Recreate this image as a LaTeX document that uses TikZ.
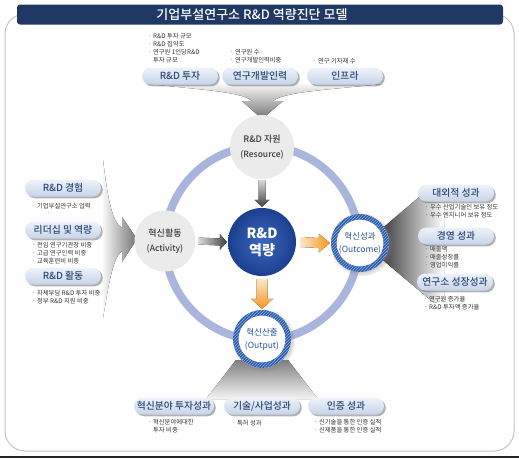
\documentclass[tikz,border=0pt]{standalone}
\usepackage{fontspec}
\setmainfont{Noto Sans CJK KR}
\newfontfamily\krmed{Noto Sans CJK KR Medium}
\usetikzlibrary{shadows,patterns,calc}
\definecolor{navy}{HTML}{1F3864}
\definecolor{ringc}{HTML}{A9B5DC}
\definecolor{cgray}{HTML}{EBEBEB}
\definecolor{hblue}{HTML}{2E5EA8}
\definecolor{hlight}{HTML}{8FB0E0}
\definecolor{cin}{HTML}{3A68BE}
\definecolor{cout}{HTML}{1C3F8F}
\definecolor{ptext}{HTML}{2A4775}
\definecolor{ptop}{HTML}{EEF3FA}
\definecolor{pbot}{HTML}{C6D4EA}
\definecolor{btext}{HTML}{333333}
\definecolor{orng}{HTML}{F7941D}
\definecolor{orngl}{HTML}{FDE6C8}
\definecolor{framec}{HTML}{C4C4C4}
\definecolor{ctext}{HTML}{3A3A3A}
\definecolor{otext}{HTML}{2A5298}
\begin{document}
\begin{tikzpicture}[x=1pt,y=-1pt,
  pill/.style={rectangle, rounded corners=8.5pt, minimum width=76pt, minimum height=17pt,
    inner sep=0pt, top color=ptop, bottom color=pbot, text=ptext,
    font=\krmed\fontsize{9.8}{10}\selectfont,
    drop shadow={shadow xshift=1.8pt, shadow yshift=-1.8pt, opacity=0.5, fill=black!60}},
  bul/.style={anchor=north west, inner sep=0pt, align=left, text=btext,
    font=\fontsize{6.3}{8}\selectfont},
  graycirc/.style={circle, fill=cgray, minimum size=64pt, inner sep=0pt, align=center,
    text=ctext, font=\krmed\fontsize{9}{15}\selectfont},
  bluecirc/.style={circle, fill=white, minimum size=58pt, inner sep=0pt, align=center,
    text=otext, font=\fontsize{8.5}{13}\selectfont,
    circular drop shadow={shadow xshift=1.5pt, shadow yshift=-1.5pt, opacity=0.35}},
  fan/.style={draw=none}
]
\useasboundingbox (0,0) rectangle (519,458);
\fill[white] (0,0) rectangle (519,458);
% frame
\draw[framec, line width=1pt, rounded corners=20pt] (5,14) rectangle (514,451);
\fill[black!85] (0,455.5) rectangle (519,458);
% title
\node[fill=navy, rounded corners=3pt, minimum width=486pt, minimum height=20pt, inner sep=0pt] (titlebar) at (260,14.5) {};
\node[text=white, font=\krmed\fontsize{13}{13}\selectfont, inner sep=0pt] (title) at (252,14.5) {기업부설연구소 R\&D 역량진단 모델};

% fans
\fill[fan, top color=white!97!black, bottom color=black!55]
  (148,84) .. controls (205,90) and (242,92) .. (252,101) -- (242,101) -- (262,119)
  -- (283,101) -- (273,101) .. controls (284,92) and (325,90) .. (382,84) -- cycle;
\fill[fan, left color=white!97!black, right color=black!55]
  (103,160) .. controls (108,200) and (112,222) .. (122,228) -- (122,217) -- (137,239)
  -- (122,262) -- (122,251) .. controls (112,258) and (108,290) .. (103,318) -- cycle;
\fill[fan, left color=black!80, right color=white]
  (378,232) -- (425,192) -- (444,192) -- (444,300) -- (434,303) -- (378,256) -- cycle;
\fill[fan, top color=black!50, bottom color=white!96!black]
  (236,360) -- (288,360) -- (318,399) -- (206,399) -- cycle;

% ring
\coordinate (rc) at (262,243);
\draw[ringc, line width=8pt] (rc) circle (97pt);

% circles
\node[graycirc] (res) at (262,147) {R\&D 자원\\{\fontsize{8.5}{15}\selectfont(Resource)}};
\node[graycirc, minimum size=61pt] (act) at (165,241) {혁신활동\\{\fontsize{8.5}{15}\selectfont(Activity)}};
\node[bluecirc] (oc) at (360,243) {혁신성과\\(Outcome)};
\node[bluecirc] (op) at (262,339) {혁신산출\\(Output)};
\foreach \c in {oc,op}{
  \fill[hblue, even odd rule] (\c) circle (29pt) circle (23.5pt);
  \fill[pattern=north east lines, pattern color=hlight, even odd rule] (\c) circle (29pt) circle (23.5pt);
}
\node[circle, minimum size=68pt, inner sep=0pt, inner color=cin, outer color=cout, text=white,
  font=\fontsize{14}{17}\selectfont\bfseries, align=center] (core) at (262,242) {R\&D\\역량};

% block arrows
\fill[top color=black!15, bottom color=black!75]
  ($(res.south)+(-3.5,1)$) -- ($(core.north)+(-3.5,-8)$) -- ($(core.north)+(-7.5,-8)$)
  -- ($(core.north)+(0,-1)$) -- ($(core.north)+(7.5,-8)$) -- ($(core.north)+(3.5,-8)$)
  -- ($(res.south)+(3.5,1)$) -- cycle;
\fill[left color=black!15, right color=black!75]
  ($(act.east)+(3,-3.5)$) -- ($(core.west)+(-8,-3.5)$) -- ($(core.west)+(-8,-8)$)
  -- ($(core.west)+(-1,0)$) -- ($(core.west)+(-8,8)$) -- ($(core.west)+(-8,3.5)$)
  -- ($(act.east)+(3,3.5)$) -- cycle;
\fill[left color=orngl, right color=orng]
  ($(core.east)+(4,-5)$) -- ($(oc.west)+(-12,-5)$) -- ($(oc.west)+(-12,-9.5)$)
  -- ($(oc.west)+(-1,0)$) -- ($(oc.west)+(-12,9.5)$) -- ($(oc.west)+(-12,5)$)
  -- ($(core.east)+(4,5)$) -- cycle;
\fill[top color=orngl, bottom color=orng]
  ($(core.south)+(-5.5,3)$) -- ($(op.north)+(-5.5,-11)$) -- ($(op.north)+(-11,-11)$)
  -- ($(op.north)+(0,-1)$) -- ($(op.north)+(11,-11)$) -- ($(op.north)+(5.5,-11)$)
  -- ($(core.south)+(5.5,3)$) -- cycle;

% top pills and bullets
\node[pill] (p1) at (180,76) {R\&D 투자};
\node[pill] (p2) at (260,76) {연구개발인력};
\node[pill] (p3) at (345,76) {인프라};
\node[bul] (t1) at (148,33.5) {· R\&D 투자 규모\\· R\&D 집약도\\· 연구원 1인당R\&D\\\hspace{5pt}투자 규모};
\node[bul] (t2) at (230,49.5) {· 연구원 수\\· 연구개발인력비중};
\node[bul] (t3) at (313,58.5) {· 연구 기자재 수};

% left pills and bullets
\node[pill] (l1) at (63,188) {R\&D 경험};
\node[pill] (l2) at (63,230) {리더십 및 역량};
\node[pill] (l3) at (63,276) {R\&D 활동};
\node[bul] (lb1) at (32,203.5) {· 기업부설연구소 업력};
\node[bul] (lb0) at (46.5,212.5) {·};
\node[bul] (lb2) at (32,242.5) {· 전임 연구기관장 비중\\· 고급 연구인력 비중\\· 교육훈련비 비중};
\node[bul] (lb3) at (32,290.5) {· 자체부담 R\&D 투자 비중\\· 정부 R\&D 지원 비중};

% right pills and bullets
\node[pill] (r1) at (456,193) {대외적 성과};
\node[pill] (r2) at (456,236) {경영 성과};
\node[pill] (r3) at (455,282) {연구소 성장성과};
\node[bul] (rb1) at (425,204.5) {· 우수 산업기술인 보유 정도\\· 우수 엔지니어 보유 정도};
\node[bul] (rb2) at (425,246.5) {· 매출액\\· 매출성장률\\· 영업이익률};
\node[bul] (rb3) at (424,296.5) {· 연구원 증가율\\· R\&D 투자액 증가율};

% bottom pills and bullets
\node[pill, minimum width=80pt] (b1) at (174,406) {혁신분야 투자성과};
\node[pill] (b2) at (262,406) {기술/사업성과};
\node[pill] (b3) at (346,406) {인증 성과};
\node[bul] (bb1) at (148,419.5) {· 혁신분야에대한\\\hspace{5pt}투자 비중};
\node[bul] (bb2) at (232,420.5) {· 특허 성과};
\node[bul] (bb3) at (314,419.5) {· 신기술을 통한 인증 실적\\· 신제품을 통한 인증 실적};
\end{tikzpicture}
\end{document}
